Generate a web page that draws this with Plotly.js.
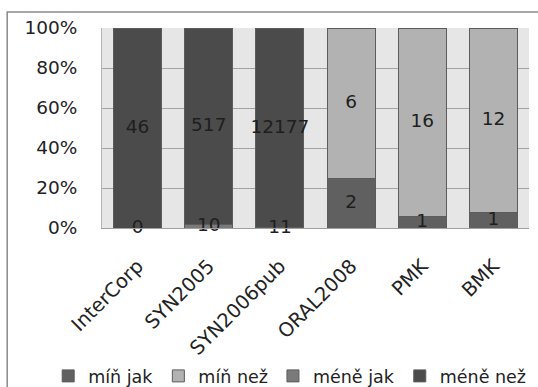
<!DOCTYPE html>
<html>
<head>
<meta charset="utf-8">
<script src="https://cdn.plot.ly/plotly-3.0.1.min.js"></script>
<style>
  html, body { margin: 0; padding: 0; background: #ffffff; }
  #chart { width: 538px; height: 387px; }
</style>
</head>
<body>
<div id="chart"></div>
<script>
// Corpora on the x axis
var corpora = ['InterCorp', 'SYN2005', 'SYN2006pub', 'ORAL2008', 'PMK', 'BMK'];

// Counts per variant (null = no value for that corpus)
var minJak  = [null, null, null, 2, 1, 1];
var minNez  = [null, null, null, 6, 16, 12];
var meneJak = [0, 10, 11, null, null, null];
var meneNez = [46, 517, 12177, null, null, null];

var seriesNames = ['míň jak', 'míň než', 'méně jak', 'méně než'];
var seriesValues = [minJak, minNez, meneJak, meneNez];
var seriesColors = ['#606060', '#b2b2b2', '#7a7a7a', '#4b4b4b'];

var FONT = 'DejaVu Sans';
var FS = 18.5;

var traces = seriesValues.map(function (vals, k) {
  return {
    type: 'bar',
    name: seriesNames[k],
    x: corpora,
    y: vals,
    marker: { color: seriesColors[k], line: { color: '#5c5c5c', width: 1 } },
    hoverinfo: 'skip'
  };
});

// Value labels centred in each stacked segment (percent scale)
var labX = [], labY = [], labT = [];
corpora.forEach(function (c, i) {
  var total = 0;
  seriesValues.forEach(function (vals) { if (vals[i] != null) total += vals[i]; });
  var cum = 0;
  seriesValues.forEach(function (vals) {
    var v = vals[i];
    if (v == null) return;
    labX.push(c);
    labY.push((cum + v / 2) / total * 100);
    labT.push(String(v));
    cum += v;
  });
});

traces.push({
  type: 'scatter',
  mode: 'text',
  x: labX,
  y: labY,
  text: labT,
  textposition: 'middle center',
  textfont: { family: FONT, size: FS, color: '#1e1e1e' },
  showlegend: false,
  hoverinfo: 'skip',
  cliponaxis: false
});

var layout = {
  width: 538,
  height: 387,
  margin: { l: 102, r: 9, t: 28, b: 159, autoexpand: false },
  barmode: 'stack',
  barnorm: 'percent',
  bargap: 0.325,
  paper_bgcolor: '#ffffff',
  plot_bgcolor: '#e6e6e6',
  font: { family: FONT, size: FS, color: '#222222' },
  showlegend: true,
  legend: {
    orientation: 'h',
    x: -0.126,
    xanchor: 'left',
    y: -0.65,
    yanchor: 'top',
    font: { family: FONT, size: 17.5, color: '#222222' },
    traceorder: 'normal',
    tracegroupgap: 0,
    bgcolor: 'rgba(0,0,0,0)'
  },
  xaxis: {
    type: 'category',
    tickangle: -45,
    automargin: false,
    showgrid: false,
    showline: true,
    linecolor: '#a0a0a0',
    linewidth: 1,
    ticks: '',
    ticklabelstandoff: 18,
    tickfont: { family: FONT, size: 19.5, color: '#222222' }
  },
  yaxis: {
    range: [0, 100],
    dtick: 20,
    tick0: 0,
    ticksuffix: '%',
    automargin: false,
    showgrid: true,
    gridcolor: '#a3a3a3',
    gridwidth: 1,
    zeroline: false,
    showline: true,
    linecolor: '#b5b5b5',
    linewidth: 1,
    ticks: '',
    ticklabelstandoff: 20,
    tickfont: { family: FONT, size: FS, color: '#222222' }
  },
  shapes: [{
    // outer chart frame (top and left edges visible)
    type: 'rect',
    xref: 'paper', yref: 'paper',
    x0: -0.222, x1: 1.2,
    y0: -1.2, y1: 1.08,
    line: { color: '#8a8a8a', width: 1.5 },
    fillcolor: 'rgba(0,0,0,0)',
    layer: 'below'
  }]
};

Plotly.newPlot('chart', traces, layout, { staticPlot: true, displayModeBar: false });
</script>
</body>
</html>
